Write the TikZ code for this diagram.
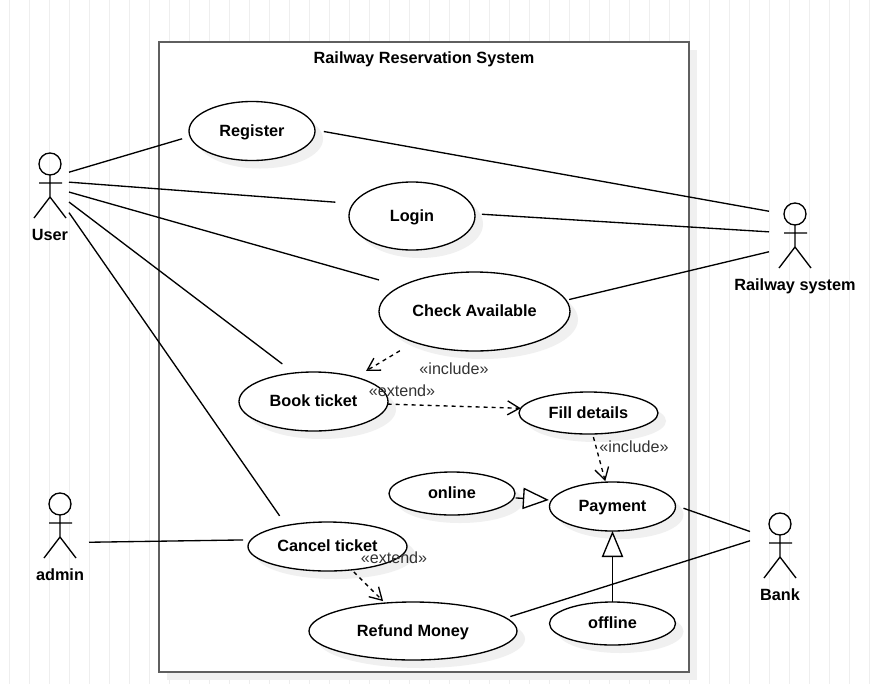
\documentclass[tikz,border=0pt]{standalone}
\usepackage{xcolor}
\usepackage{fontspec}
\setmainfont{Liberation Sans}
\usetikzlibrary{arrows.meta,shapes.geometric,shadows}
\definecolor{umlgrid}{HTML}{eeeeee}
\definecolor{umlframe}{HTML}{5f5f5f}
\definecolor{umlshadow}{HTML}{f0f0f0}
\definecolor{umlnote}{HTML}{333333}
\tikzset{
  umlline/.style={black,line width=1pt},
  usecase/.style={ellipse,draw=black,line width=1pt,fill=white,inner sep=0pt,outer sep=0pt,
    text height=10.5pt,text depth=3pt,
    font=\fontsize{12.2pt}{14pt}\selectfont\bfseries,
    drop shadow={shadow xshift=6pt,shadow yshift=-6pt,fill=umlshadow,opacity=1}},
  actorbox/.style={inner sep=0pt,minimum width=24pt,minimum height=48.75pt},
  actorname/.style={inner sep=0pt,text height=10.5pt,text depth=3pt,font=\fontsize{12.2pt}{14pt}\selectfont\bfseries},
  stereo/.style={inner sep=0pt,text height=10.5pt,text depth=3pt,text=umlnote,font=\fontsize{12.1pt}{14pt}\selectfont},
  dep/.style={umlline,dash pattern=on 3pt off 3pt,-{Straight Barb[length=9pt,width=10.5pt,line width=1pt]}},
  gen/.style={umlline,-{Triangle[open,length=19.5pt,width=16pt,fill=white,line width=1pt]}}
}

\begin{document}
\begin{tikzpicture}[x=0.75pt,y=-0.75pt]
  \clip (0,0) rectangle (875,683);
  \fill[white] (0,0) rectangle (875,683);
  \draw[umlgrid,line width=0.75pt,shift={(9.5,2.5)}] (-20,-20) grid[step=20] (880,700);

  % frame
  \node[draw=umlframe,line width=1.5pt,fill=white,minimum width=397.5pt,minimum height=472.5pt,inner sep=0pt,
    drop shadow={shadow xshift=6pt,shadow yshift=-6pt,fill=umlshadow,opacity=1}] (system) at (424,357) {};
  \node[actorname] (systemtitle) at (424,58.5) {Railway Reservation System};

  % use cases
  \node[usecase,minimum width=94.5pt,minimum height=44.25pt] (register) at (252,131) {Register};
  \node[usecase,minimum width=94.5pt,minimum height=51pt] (login) at (412,216) {Login};
  \node[usecase,minimum width=143.25pt,minimum height=59.25pt] (check) at (474.5,311.5) {Check Available};
  \node[usecase,minimum width=111.75pt,minimum height=44.25pt] (book) at (313.5,401.5) {Book ticket};
  \node[usecase,minimum width=104.25pt,minimum height=31.5pt] (fill) at (588.5,413) {Fill details};
  \node[usecase,minimum width=94.5pt,minimum height=32.25pt] (online) at (452,493.5) {online};
  \node[usecase,minimum width=94.5pt,minimum height=36.75pt] (payment) at (612.5,506.5) {Payment};
  \node[usecase,minimum width=119.25pt,minimum height=36.75pt] (cancel) at (327.5,546.5) {Cancel ticket};
  \node[usecase,minimum width=156pt,minimum height=43.5pt] (refund) at (413,631) {Refund Money};
  \node[usecase,minimum width=94.5pt,minimum height=32.25pt] (offline) at (612.5,623.5) {offline};

  % actors
  \node[actorbox,outer xsep=2.25pt] (user) at (50,185.5) {};
  \draw[umlline] (50,164) circle[radius=11];
  \draw[umlline] (50,175) -- (50,197) (39,183) -- (62,183) (34,218) -- (50,197) -- (66,218);
  \node[actorname] (userlabel) at (50,235.5) {User};

  \node[actorbox,outer xsep=7.5pt] (railway) at (795,235.5) {};
  \draw[umlline] (795,214) circle[radius=11];
  \draw[umlline] (795,225) -- (795,247) (784,233) -- (807,233) (779,268) -- (795,247) -- (811,268);
  \node[actorname] (railwaylabel) at (795,285.5) {Railway system};

  \node[actorbox,outer xsep=9.75pt] (admin) at (60,525.5) {};
  \draw[umlline] (60,504) circle[radius=11];
  \draw[umlline] (60,515) -- (60,537) (49,523) -- (72,523) (44,558) -- (60,537) -- (76,558);
  \node[actorname] (adminlabel) at (60,575.5) {admin};

  \node[actorbox,outer xsep=10.5pt] (bank) at (780,545.5) {};
  \draw[umlline] (780,524) circle[radius=11];
  \draw[umlline] (780,535) -- (780,557) (769,543) -- (792,543) (764,578) -- (780,557) -- (796,578);
  \node[actorname] (banklabel) at (780,595.5) {Bank};

  % associations
  \draw[umlline,shorten >=6.2pt] (user.35.4) -- (register.185.3);
  \draw[umlline,shorten >=13.5pt] (user.10.4) -- (login.168.9);
  \draw[umlline,shorten >=17.2pt] (user.341.1) -- (check.161.1);
  \draw[umlline,shorten >=11.25pt] (user.319) -- (book.124.5);
  \draw[umlline,shorten >=8.85pt] (user.305.6) -- (cancel.153.5);
  \draw[umlline,shorten >=6pt] (admin.330.4) -- (cancel.175.2);
  \draw[umlline,shorten <=6.75pt] (register.1.45) -- (railway.137.9);
  \draw[umlline,shorten <=5.25pt] (login.2.2) -- (railway.172.3);
  \draw[umlline,shorten <=2.4pt] (check.7.4) -- (railway.212.4);
  \draw[umlline,shorten <=6.4pt] (payment.1.3) -- (bank.155.8);
  \draw[umlline,shorten <=3.5pt] (refund.8.8) -- (bank.171.5);

  % dependencies
  \draw[dep,shorten <=12.6pt,shorten >=9.1pt] (check.207.9) -- (book.30.3);
  \draw[dep] (book.358) -- (fill.176.7);
  \draw[dep,shorten <=2.4pt,shorten >=0.75pt] (fill.281) -- (payment.106);
  \draw[dep,shorten <=2.25pt,shorten >=2.1pt] (cancel.316.2) -- (refund.135);

  % generalisations
  \draw[gen,shorten <=1.5pt,shorten >=2.1pt] (online.356.1) -- (payment.174.4);
  \draw[gen] (offline.north) -- (payment.south);

  % stereotypes
  \node[stereo] (includecheck) at (454,369.5) {«include»};
  \node[stereo] (extendbook) at (402,391.5) {«extend»};
  \node[stereo] (includefill) at (634,447) {«include»};
  \node[stereo] (extendcancel) at (394,558.5) {«extend»};
\end{tikzpicture}
\end{document}
